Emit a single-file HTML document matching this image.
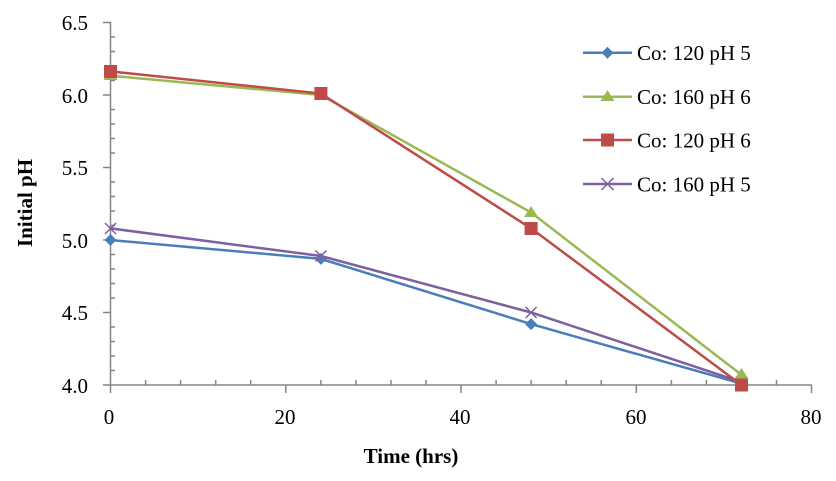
<!DOCTYPE html>
<html><head><meta charset="utf-8"><style>body{margin:0;background:#fff}svg text{font-family:"Liberation Serif","Times New Roman",serif}</style></head><body>
<svg width="836" height="476" xmlns="http://www.w3.org/2000/svg" style="font-family:'Liberation Serif',serif">
<rect width="836" height="476" fill="#fff"/>
<g stroke="#868686" stroke-width="1.5" fill="none">
<line x1="110.5" y1="22" x2="110.5" y2="385"/>
<line x1="110" y1="385" x2="812" y2="385"/>
<path d="M103 22.5H111M103 95H111M103 167.5H111M103 240H111M103 312.5H111M103 385H111"/>
<path d="M110 37H115M110 51.5H115M110 66H115M110 80.5H115M110 109.5H115M110 124H115M110 138.5H115M110 153H115M110 182H115M110 196.5H115M110 211H115M110 225.5H115M110 254.5H115M110 269H115M110 283.5H115M110 298H115M110 327H115M110 341.5H115M110 356H115M110 370.5H115"/>
<path d="M110.5 385V393M285.8 385V393M461 385V393M636.3 385V393M811.5 385V393"/>
<path d="M145.6 385V380M180.6 385V380M215.7 385V380M250.7 385V380M320.9 385V380M355.9 385V380M391 385V380M426 385V380M496.1 385V380M531.1 385V380M566.2 385V380M601.2 385V380M671.4 385V380M706.4 385V380M741.5 385V380M776.5 385V380"/>
</g>
<g font-size="21" fill="#000" text-anchor="end">
<text x="88" y="30">6.5</text><text x="88" y="103">6.0</text><text x="88" y="175">5.5</text><text x="88" y="248">5.0</text><text x="88" y="320">4.5</text><text x="88" y="393">4.0</text>
</g>
<g font-size="21" fill="#000" text-anchor="middle">
<text x="109" y="424">0</text><text x="285" y="424">20</text><text x="460" y="424">40</text><text x="636" y="424">60</text><text x="811" y="424">80</text>
</g>
<text x="411" y="463" font-size="21" font-weight="bold" text-anchor="middle">Time (hrs)</text>
<text transform="translate(32 203) rotate(-90)" font-size="21" font-weight="bold" text-anchor="middle">Initial pH</text>
<polyline points="110.5,240 320.9,258.9 531.1,324.1 741.5,383.6" fill="none" stroke="#4a7ebb" stroke-width="2.5"/>
<g fill="#4a7ebb"><path d="M110.5 234l6 6-6 6-6-6z"/><path d="M320.9 252.9l6 6-6 6-6-6z"/><path d="M531.1 318.1l6 6-6 6-6-6z"/><path d="M741.5 377.6l6 6-6 6-6-6z"/></g>
<polyline points="110.5,228.4 320.9,256 531.1,312.5 741.5,382.1" fill="none" stroke="#7d60a0" stroke-width="2.5"/>
<g stroke="#7d60a0" stroke-width="1.5"><path d="M105 223l11 11M116 223l-11 11"/><path d="M315.4 250.5l11 11M326.4 250.5l-11 11"/><path d="M525.6 307l11 11M536.6 307l-11 11"/><path d="M736 376.6l11 11M747 376.6l-11 11"/></g>
<polyline points="110.5,75.7 320.9,95 531.1,212.5 741.5,374.9" fill="none" stroke="#98b954" stroke-width="2.5"/>
<g fill="#98b954"><path d="M110.5 69l7 11h-14z"/><path d="M320.9 89l7 11h-14z"/><path d="M531.1 206l7 11h-14z"/><path d="M741.5 368l7 11h-14z"/></g>
<polyline points="110.5,71.4 320.9,93.6 531.1,228.4 741.5,385" fill="none" stroke="#be4b48" stroke-width="2.5"/>
<g fill="#be4b48"><rect x="104" y="65" width="13" height="13"/><rect x="314.4" y="87" width="13" height="13"/><rect x="524.6" y="222" width="13" height="13"/><rect x="735" y="378.5" width="13" height="13"/></g>
<g stroke-width="2.5">
<line x1="583" y1="52.7" x2="632" y2="52.7" stroke="#4a7ebb"/>
<line x1="583" y1="96.7" x2="632" y2="96.7" stroke="#98b954"/>
<line x1="583" y1="140" x2="632" y2="140" stroke="#be4b48"/>
<line x1="583" y1="184" x2="632" y2="184" stroke="#7d60a0"/>
</g>
<path d="M607.5 46.7l6 6-6 6-6-6z" fill="#4a7ebb"/>
<path d="M607.5 90l7 11h-14z" fill="#98b954"/>
<rect x="601" y="133.5" width="13" height="13" fill="#be4b48"/>
<path d="M601.5 178l12 12M613.5 178l-12 12" stroke="#7d60a0" stroke-width="1.5"/>
<g font-size="21" fill="#000">
<text x="637" y="60">Co: 120 pH 5</text>
<text x="637" y="104">Co: 160 pH 6</text>
<text x="637" y="147.5">Co: 120 pH 6</text>
<text x="637" y="191.5">Co: 160 pH 5</text>
</g>
</svg>
</body></html>
